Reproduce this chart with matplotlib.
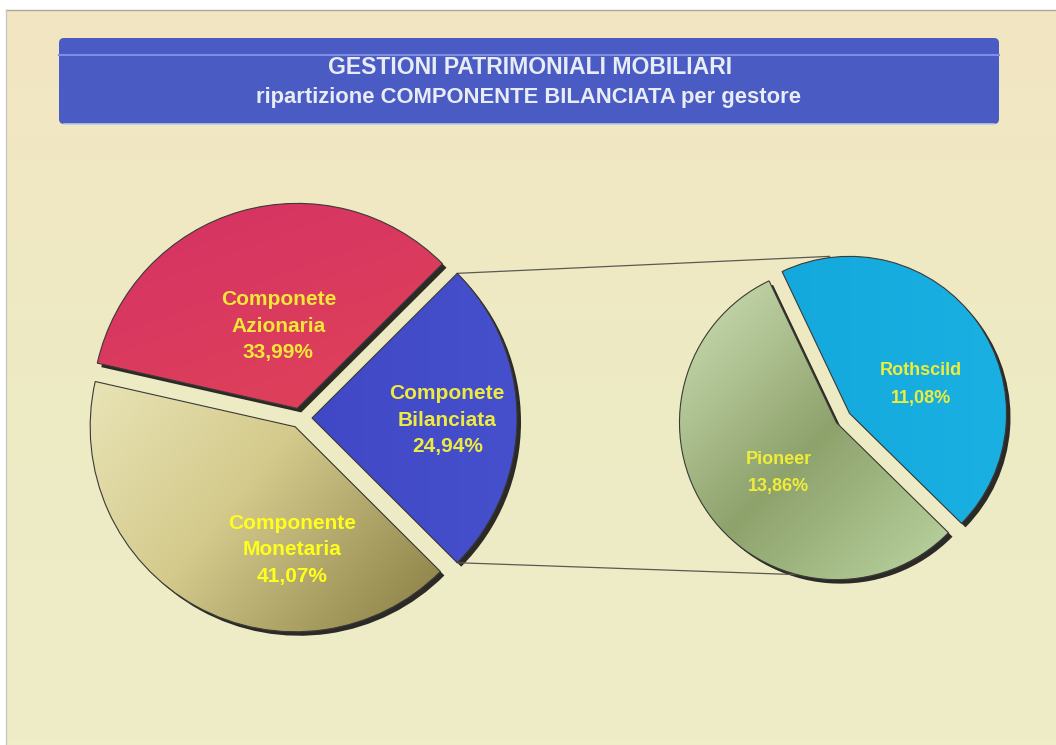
import numpy as np
import matplotlib.pyplot as plt
from matplotlib.colors import LinearSegmentedColormap
from matplotlib.patches import FancyBboxPatch

# Data
main_labels = ["Componete\nBilanciata", "Componete\nAzionaria", "Componente\nMonetaria"]
main_values = [24.94, 33.99, 41.07]
sub_labels = ["Rothscild", "Pioneer"]
sub_values = [11.08, 13.86]
title_lines = ["GESTIONI PATRIMONIALI MOBILIARI",
               "ripartizione COMPONENTE BILANCIATA per gestore"]

W, H = 1056, 745
fig = plt.figure(figsize=(W / 100, H / 100), dpi=100, facecolor="white")
ax = fig.add_axes([0, 0, 1, 1])
ax.set_xlim(0, W)
ax.set_ylim(0, H)
ax.set_axis_off()


def fmt(v):
    return f"{v:.2f}".replace(".", ",") + "%"


def gradient(extent, stops, angle, zorder, clip=None, n=200):
    xs, ys = np.meshgrid(np.linspace(0, 1, n), np.linspace(0, 1, n))
    a = np.radians(angle)
    t = (xs - 0.5) * np.cos(a) + (ys - 0.5) * np.sin(a)
    t = (t - t.min()) / (t.max() - t.min())
    cmap = LinearSegmentedColormap.from_list("g", stops)
    im = ax.imshow(t, cmap=cmap, extent=extent, origin="lower", vmin=0, vmax=1,
                   zorder=zorder, interpolation="bilinear")
    if clip is not None:
        im.set_clip_path(clip)
    return im


# slide background
gradient([6, W, 0, H - 10], ["#EFEDC8", "#EDEBC4", "#F3E6C2"], 90, 0)
ax.plot([6, W], [H - 10, H - 10], color="#A8A8A0", lw=1, zorder=0.5)
ax.plot([6, 6], [0, H - 10], color="#C8C8C0", lw=1, zorder=0.5)

# title banner
banner = FancyBboxPatch((59, 621), 940, 86, boxstyle="round,pad=0,rounding_size=5",
                        facecolor="#4A5CC4", edgecolor="none", zorder=1)
ax.add_patch(banner)
ax.plot([59, 999], [690, 690], color="#7E8EE0", lw=1.5, zorder=1.5)
ax.plot([64, 994], [621, 621], color="#B4CCEA", lw=1.2, zorder=1.5)
ax.text(530, 671, title_lines[0], ha="center", va="baseline", color="#E8ECF4",
        fontsize=16.6, fontweight="bold", family="Liberation Sans", zorder=2)
ax.text(528, 642, title_lines[1], ha="center", va="baseline", color="#E8ECF4",
        fontsize=15.8, fontweight="bold", family="Liberation Sans", zorder=2)


def draw_pie(values, center, radius, start, explode, fills, label_pos, labels,
             text_colors, fs, ls):
    # drop shadow
    sw, _ = ax.pie(values, startangle=start, explode=explode, radius=radius,
                   center=(center[0] + 4, center[1] - 4), colors=["#2C2A26"] * len(values),
                   frame=True)
    for w in sw:
        w.set_zorder(1)
    wedges, _ = ax.pie(values, startangle=start, explode=explode, radius=radius,
                       center=center, frame=True,
                       wedgeprops=dict(facecolor="none", edgecolor="#3A3A36", lw=0.8))
    for w, (stops, ang), (frac, deg), lab, v, tc in zip(wedges, fills, label_pos,
                                                        labels, values, text_colors):
        w.set_zorder(3)
        cx, cy = w.center
        r = w.r
        gradient([cx - r, cx + r, cy - r, cy + r], stops, ang, 2, clip=w)
        tx = cx + frac * r * np.cos(np.radians(deg))
        ty = cy + frac * r * np.sin(np.radians(deg))
        ax.text(tx, ty, lab + "\n" + fmt(v), ha="center", va="center", color=tc,
                fontsize=fs, fontweight="bold", family="Liberation Sans",
                linespacing=ls, zorder=4)
    return wedges


main_fills = [
    (["#3C40BE", "#4650CC"], 0),
    (["#E85440", "#DE405A", "#D43264"], 110),
    (["#F4F2CE", "#D4CA8C", "#7A6E34"], -40),
]
main_wedges = draw_pie(main_values, (300, 327), 205, -44.9, [12, 10, 10],
                       main_fills, [(0.66, -1), (0.41, 103), (0.60, 268.5)],
                       main_labels, ["#EEEA40", "#F2E838", "#FFFF1C"], 15, 1.5)

sub_fills = [
    (["#12A6DA", "#1AB0E2"], 0),
    (["#D2E4BA", "#8EA26C", "#C2DEAA"], -45),
]
sub_wedges = draw_pie(sub_values, (843, 327), 157, -44.5, [8, 8],
                      sub_fills, [(0.49, 22), (0.49, 221)],
                      sub_labels, ["#F0EC3A", "#F0EC3A"], 13, 1.8)

# connector lines from the balanced slice to the second pie
bw = main_wedges[0]
bcx, bcy = bw.center
top_a = (bcx + bw.r * np.cos(np.radians(bw.theta2)), bcy + bw.r * np.sin(np.radians(bw.theta2)))
bot_a = (bcx + bw.r * np.cos(np.radians(bw.theta1)), bcy + bw.r * np.sin(np.radians(bw.theta1)))
rw, pw = sub_wedges
top_b = (rw.center[0] - 20, rw.center[1] + rw.r)
bot_b = (pw.center[0] - 40, pw.center[1] - pw.r + 5)
ax.plot([top_a[0], top_b[0]], [top_a[1], top_b[1]], color="#5A5A52", lw=0.9, zorder=1)
ax.plot([bot_a[0], bot_b[0]], [bot_a[1], bot_b[1]], color="#5A5A52", lw=0.9, zorder=1)

ax.set_xlim(0, W)
ax.set_ylim(0, H)
ax.set_aspect("equal")
fig.savefig("out.png", dpi=100, facecolor="white")
